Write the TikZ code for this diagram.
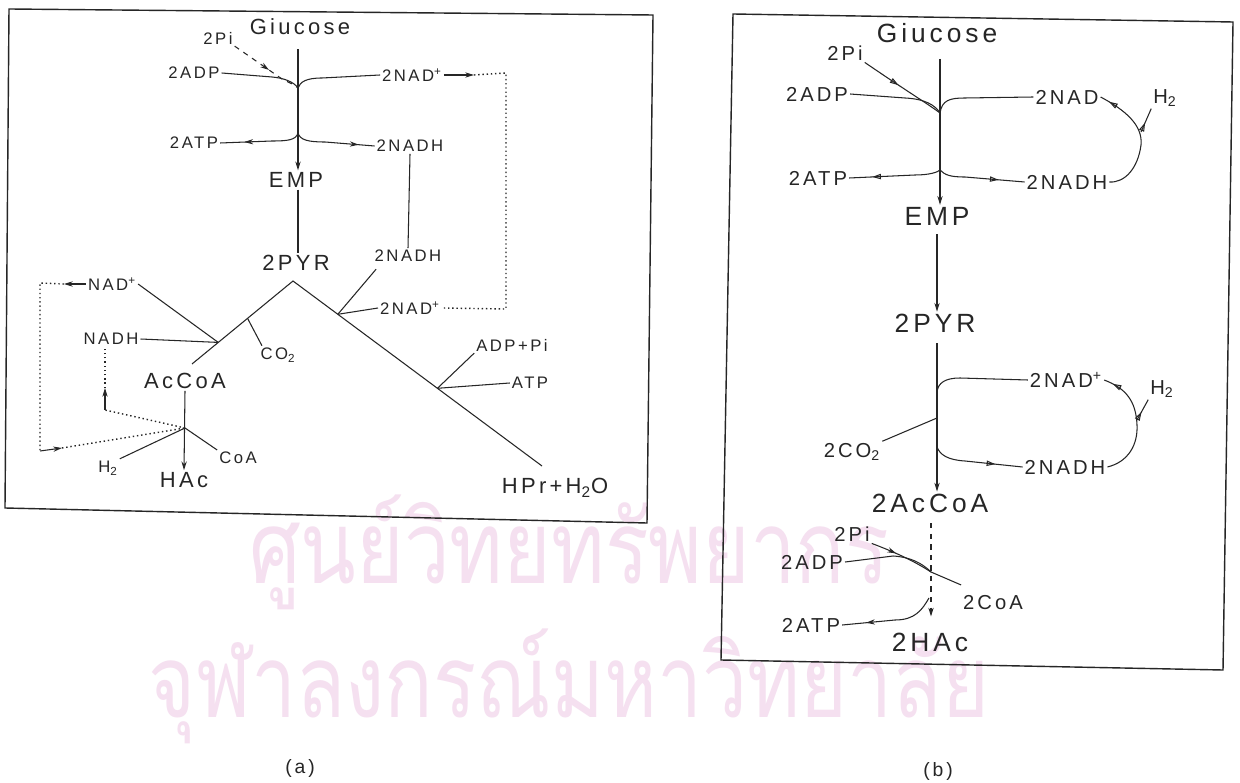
\documentclass[tikz,border=0pt]{standalone}
\usepackage{fontspec}
\setmainfont{Liberation Sans}[LetterSpace=15]
\newfontfamily\thaifont[Script=Thai]{Loma}
\usepackage{graphicx}
\usetikzlibrary{arrows.meta, decorations.markings, calc}
\definecolor{ink}{rgb}{0.15,0.15,0.15}
\definecolor{wmark}{RGB}{245,224,240}
\tikzset{
  flow/.style={draw=ink, line width=0.6pt},
  dots/.style={draw=ink, line width=0.8pt, dash pattern=on 0.8pt off 1.6pt},
  frame/.style={draw=ink, line width=0.8pt},
  lbla/.style={text=ink, inner sep=1pt, font=\fontsize{9.5}{11}\selectfont},
  biga/.style={text=ink, inner sep=1pt, font=\fontsize{12.5}{14}\selectfont},
  lblb/.style={text=ink, inner sep=1pt, font=\fontsize{11.5}{13}\selectfont},
  bigb/.style={text=ink, inner sep=1pt, font=\fontsize{15}{17}\selectfont},
  capt/.style={text=ink, inner sep=1pt, font=\fontsize{11}{13}\selectfont},
  tipat/.style={postaction={decorate}, decoration={markings,
      mark=at position #1 with {\arrow{Stealth[length=5pt,width=3pt]}}}},
  opentipat/.style={postaction={decorate}, decoration={markings,
      mark=at position #1 with {\arrow{Triangle[open,length=5pt,width=3pt]}}}},
}

\begin{document}
\begin{tikzpicture}[x=0.02cm, y=-0.02cm, >={Stealth[length=5pt,width=3pt]}]
  \useasboundingbox (0,0) rectangle (1240,783);
  \fill[white] (0,0) rectangle (1240,783);

  % watermark
  \node[inner sep=0, text=wmark] (wm1) at (569,552) {\resizebox*{12.8cm}{2.3cm}{\thaifont ศูนย์วิทยทรัพยากร}};
  \node[inner sep=0, text=wmark] (wm2) at (569,686) {\resizebox*{16.8cm}{2.3cm}{\thaifont จุฬาลงกรณ์มหาวิทยาลัย}};

  % ---------------- (a) ----------------
  \draw[frame] (9,9) -- (653,15) -- (647,523) -- (5,508) -- cycle;

  \node[biga] (glca) at (300,27) {Giucose};
  \node[lbla] (pia) at (218,38) {2Pi};
  \node[lbla] (adpa) at (194,73) {2ADP};
  \node[lbla] (atpa) at (194,143) {2ATP};
  \node[lbla] (nada) at (412,75) {2NAD\textsuperscript{+}};
  \node[lbla] (nadha) at (410,146) {2NADH};
  \node[biga] (empa) at (296,180) {EMP};
  \node[biga] (pyra) at (296,263) {2PYR};
  \node[lbla] (nadhb) at (408,256) {2NADH};
  \node[lbla] (nadb) at (410,308) {2NAD\textsuperscript{+}};
  \node[lbla] (adppi) at (512,345) {ADP+Pi};
  \node[lbla] (atpc) at (530,383) {ATP};
  \node[biga] (hpr) at (555,488) {HPr+H\textsubscript{2}O};
  \node[lbla] (nadc) at (112,284) {NAD\textsuperscript{+}};
  \node[lbla] (nadhc) at (111,339) {NADH};
  \node[lbla] (co2a) at (278,355) {CO\textsubscript{2}};
  \node[biga] (accoa) at (185,381) {AcCoA};
  \node[lbla] (h2a) at (108,468) {H\textsubscript{2}};
  \node[biga] (haca) at (184,480) {HAc};
  \node[lbla] (coaa) at (238,458) {CoA};

  \coordinate (ja1) at (298,88);
  \coordinate (ja2) at (298,133);
  \coordinate (apx) at (293,281);
  \coordinate (ahp) at (542,466);
  \coordinate (aac) at (192,364);
  \coordinate (jr1) at ($(apx)!0.18!(ahp)$);
  \coordinate (jr2) at ($(apx)!0.58!(ahp)$);
  \coordinate (jl1) at ($(apx)!0.45!(aac)$);
  \coordinate (jl2) at ($(apx)!0.74!(aac)$);
  \coordinate (jh) at (185,428);
  \coordinate (dta) at (506,73);
  \coordinate (dtb) at (506,309);
  \coordinate (dtc) at (40,283);
  \coordinate (dtd) at (40,451);
  \coordinate (dte) at (105,410);

  \draw[flow, ->] ([yshift=-7pt]ja1 |- glca.south) -- (ja1 |- empa.north);
  \draw[flow, dashed, tipat=0.55] (pia.south east) -- (282,79) .. controls (290,83) and (295,85) .. (ja1);
  \draw[flow] (adpa.east) -- (272,77) .. controls (284,78) and (294,82) .. (ja1);
  \draw[flow] (ja1) .. controls (300,82) and (306,78) .. (322,78) -- (nada.west);
  \draw[flow, ->] (nada.east) -- ++(30,0) coordinate (arra);
  \draw[dots] (arra) -- (dta) -- (dtb) -- (nadb.east);
  \draw[flow, tipat=0.7] (ja2) .. controls (296,140) and (288,141) .. (272,141) -- (atpa.east);
  \draw[flow, tipat=0.8] (ja2) .. controls (300,140) and (308,142) .. (325,142) -- (nadha.west);
  \draw[flow] (ja1 |- empa.south) -- (ja1 |- pyra.north);
  \draw[flow] (nadha.south) -- (nadhb.north);

  % pyruvate split
  \draw[flow] (aac) -- (apx) -- (ahp);
  \draw[flow] ([xshift=2pt,yshift=-3pt]nadhb.south west) -- (jr1);
  \draw[flow] (jr1) -- (nadb.west);
  \draw[flow] (adppi.south west) -- (jr2);
  \draw[flow] (jr2) -- (atpc.west);
  \draw[flow] (jl1) -- ([xshift=2pt]co2a.north west);
  \draw[flow] (nadc.east) -- (jl2);
  \draw[flow] (nadhc.east) -- (jl2);
  \draw[flow, ->] (accoa.south) -- (haca.north);
  \draw[flow] (jh) -- (coaa.north west);
  \draw[flow] (jh) -- (h2a.north east);

  % NAD cycle
  \draw[flow, ->] (nadc.west) -- ++(-22,0) coordinate (arrb);
  \draw[dots] (arrb) -- (dtc) -- (dtd);
  \draw[flow, ->] (dtd) -- ++(22,-3) coordinate (arrc);
  \draw[dots] (arrc) -- (jh);
  \draw[dots] (jh) -- (dte);
  \draw[flow, ->] (dte) -- ++(0,-22) coordinate (arrd);
  \draw[dots] (arrd) -- (arrd |- nadhc.south);

  % ---------------- (b) ----------------
  \draw[frame] (733,14) -- (1233,22) -- (1223,670) -- (721,660) -- cycle;

  \node[bigb] (glcb) at (937,33) {Giucose};
  \node[lblb] (pib) at (845,53) {2Pi};
  \node[lblb] (adpb) at (817,94) {2ADP};
  \node[lblb] (nadb1) at (1067,97) {2NAD};
  \node[lblb] (h2b1) at (1165,98) {H\textsubscript{2}};
  \node[lblb] (atpb1) at (818,178) {2ATP};
  \node[lblb] (nadhb1) at (1067,182) {2NADH};
  \node[bigb] (empb) at (937,216) {EMP};
  \node[bigb] (pyrb) at (935,323) {2PYR};
  \node[lblb] (nadb2) at (1066,380) {2NAD\textsuperscript{+}};
  \node[lblb] (h2b2) at (1162,389) {H\textsubscript{2}};
  \node[lblb] (co2b) at (852,452) {2CO\textsubscript{2}};
  \node[lblb] (nadhb2) at (1065,467) {2NADH};
  \node[bigb] (accob) at (930,503) {2AcCoA};
  \node[lblb] (pib2) at (852,534) {2Pi};
  \node[lblb] (adpb2) at (812,562) {2ADP};
  \node[lblb] (coab) at (993,603) {2CoA};
  \node[lblb] (atpb2) at (811,625) {2ATP};
  \node[bigb] (hacb) at (930,642) {2HAc};

  \coordinate (jb1) at (940,113);
  \coordinate (jb2) at (940,170);
  \coordinate (jb3) at (937,392);
  \coordinate (jb4) at (937,418);
  \coordinate (jb5) at (937,447);
  \coordinate (jb6) at (931,572);
  \coordinate (jb7) at (929,598);
  \coordinate (hb1) at (1141,132);
  \coordinate (hb2) at (1137,420);

  \draw[flow, ->] ([yshift=-8pt]jb1 |- glcb.south) -- (jb1 |- empb.north);
  \draw[flow, opentipat=0.45] (pib.south east) .. controls (905,90) and (928,104) .. (jb1);
  \draw[flow] (adpb.east) -- (905,98) .. controls (925,99) and (935,105) .. (jb1);
  \draw[flow] (jb1) .. controls (942,100) and (950,98) .. (965,98) -- (nadb1.west);
  \draw[flow, opentipat=0.92] (nadhb1.east) .. controls (1125,183) and (1138,168) .. (1141,145)
      .. controls (1143,125) and (1125,110) .. (nadb1.east);
  \draw[flow, opentipat=0.4] (hb1) -- (h2b1.south west);
  \draw[flow, opentipat=0.75] (jb2) .. controls (938,172) and (930,175) .. (915,175) -- (atpb1.east);
  \draw[flow, opentipat=0.7] (jb2) .. controls (945,175) and (950,177) .. (965,177) -- (nadhb1.west);

  \draw[flow, ->] ([yshift=-4pt]jb3 |- empb.south) -- (jb3 |- pyrb.north);
  \draw[flow, ->] ([yshift=-5pt]jb3 |- pyrb.south) -- (jb3 |- accob.north);
  \draw[flow] (jb3) .. controls (938,383) and (945,378) .. (960,378) -- (nadb2.west);
  \draw[flow, opentipat=0.92] (nadhb2.east) .. controls (1128,462) and (1138,445) .. (1137,425)
      .. controls (1136,400) and (1125,388) .. (nadb2.east);
  \draw[flow, opentipat=0.4] (hb2) -- (h2b2.south west);
  \draw[flow] (co2b.north east) -- (jb4);
  \draw[flow, opentipat=0.7] (jb5) .. controls (940,455) and (948,460) .. (965,461) -- (nadhb2.west);

  \draw[flow, dashed, ->] ([yshift=-5pt]jb6 |- accob.south) -- ([yshift=8pt]jb6 |- hacb.north);
  \draw[flow, tipat=0.4] (pib2.south east) .. controls (905,556) and (920,565) .. (jb6);
  \draw[flow] (adpb2.east) -- (893,556) .. controls (910,557) and (922,563) .. (jb6);
  \draw[flow] (jb6) -- ([yshift=5pt]coab.north west);
  \draw[flow, tipat=0.75] (jb7) .. controls (922,610) and (915,620) .. (895,620) -- (atpb2.east);

  % captions
  \node[capt] (capa) at (300,768) {(a)};
  \node[capt] (capb) at (938,771) {(b)};
\end{tikzpicture}
\end{document}
